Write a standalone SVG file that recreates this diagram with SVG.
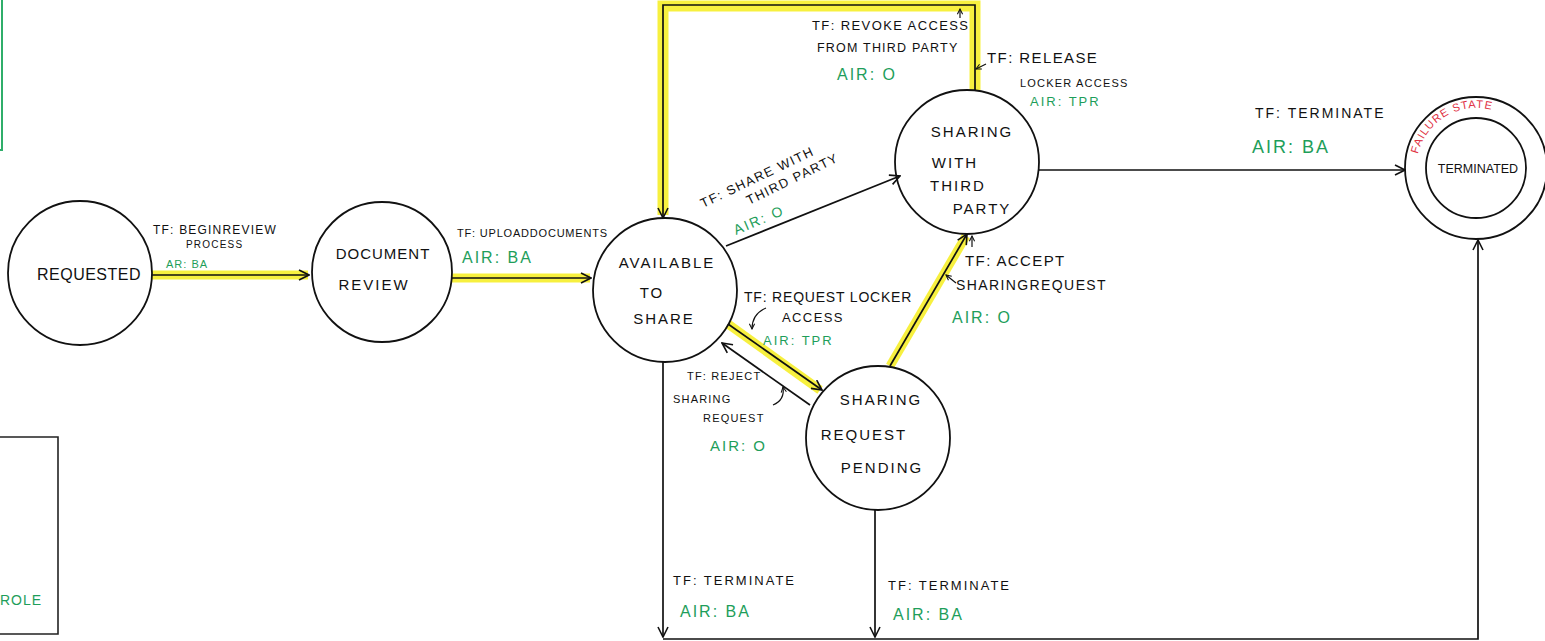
<svg xmlns="http://www.w3.org/2000/svg" width="1545" height="641" viewBox="0 0 1545 641">
  <style>
    .bg { fill: #ffffff; }
    .state { fill: none; stroke: #111; stroke-width: 1.8; }
    .edge { fill: none; stroke: #111; stroke-width: 1.7; }
    .hl { fill: none; stroke: #f6ee2a; stroke-width: 9; stroke-linecap: butt; stroke-linejoin: miter; opacity: 0.9; }
    .hl-thick { fill: none; stroke: #f6ee2a; stroke-width: 11; stroke-linejoin: miter; opacity: 0.9; }
    .pointer { fill: none; stroke: #111; stroke-width: 1.2; }
    text { font-family: "Liberation Sans", Arial, sans-serif; fill: #111; }
    .name { font-size: 15px; text-anchor: middle; letter-spacing: 2px; }
    .tf { font-size: 13px; letter-spacing: 1.4px; }
    .tf-s { font-size: 11px; letter-spacing: 1.2px; }
    .air { fill: #1e9e5a; font-size: 16px; letter-spacing: 2px; }
    .air-s { fill: #1e9e5a; font-size: 11px; letter-spacing: 1px; }
    .fail { fill: #e0303f; font-size: 11px; letter-spacing: 1px; }
  </style>
  <defs>
    <marker id="arrow" viewBox="0 0 12 12" refX="11" refY="6" markerWidth="12" markerHeight="12" markerUnits="userSpaceOnUse" orient="auto">
      <path d="M1,1 L11,6 L1,11" fill="none" stroke="#111" stroke-width="1.6"/>
    </marker>
    <marker id="tick" viewBox="0 0 8 8" refX="7" refY="4" markerWidth="7" markerHeight="7" markerUnits="userSpaceOnUse" orient="auto">
      <path d="M1,1 L7,4 L1,7" fill="none" stroke="#111" stroke-width="1.2"/>
    </marker>
    <!-- arc through the ring between the two circles of the final state -->
    <path id="failArc" d="M1418,154 A60,60 0 0 1 1492,110"/>
  </defs>

  <rect class="bg" x="0" y="0" width="1545" height="641"/>

  <!-- side panels (clipped at the left edge) -->
  <g id="legend-top">
    <path d="M2,0 L2,150 L-2,150" fill="none" stroke="#2fae6a" stroke-width="2"/>
  </g>
  <g id="legend-bottom">
    <path d="M-2,437 L58,437 L58,634 L-2,634" fill="none" stroke="#222" stroke-width="1.6"/>
    <text class="air" x="0" y="605" style="font-size:14px;letter-spacing:1px">ROLE</text>
  </g>

  <!-- highlighted path -->
  <g id="highlights">
    <line class="hl" x1="152" y1="275" x2="308" y2="275"/>
    <line class="hl" x1="452" y1="278" x2="590" y2="278"/>
    <path class="hl-thick" d="M975,90 L975,6 L663,6 L663,215"/>
    <line class="hl" x1="728" y1="324" x2="820" y2="390"/>
    <line class="hl" x1="890" y1="366" x2="966" y2="236"/>
  </g>

  <!-- transitions -->
  <g id="connectors">
    <line class="edge" x1="152" y1="275" x2="309" y2="275" marker-end="url(#arrow)"/>
    <line class="edge" x1="452" y1="278" x2="591" y2="278" marker-end="url(#arrow)"/>
    <path class="edge" d="M975,90 L975,5 L663,5 L663,218" marker-end="url(#arrow)"/>
    <line class="edge" x1="726" y1="246" x2="900" y2="176" marker-end="url(#arrow)"/>
    <line class="edge" x1="728" y1="324" x2="822" y2="390" marker-end="url(#arrow)"/>
    <line class="edge" x1="810" y1="405" x2="722" y2="343" marker-end="url(#arrow)"/>
    <line class="edge" x1="890" y1="366" x2="967" y2="234" marker-end="url(#arrow)"/>
    <line class="edge" x1="1039" y1="170" x2="1405" y2="170" marker-end="url(#arrow)"/>
    <line class="edge" x1="663" y1="362" x2="663" y2="637" marker-end="url(#arrow)"/>
    <line class="edge" x1="875" y1="510" x2="875" y2="637" marker-end="url(#arrow)"/>
    <path class="edge" d="M663,639 L1478,639 L1478,240" marker-end="url(#arrow)"/>

    <!-- label pointers -->
    <path class="pointer" d="M960,18 L960,9" marker-end="url(#tick)"/>
    <path class="pointer" d="M986,64 L976,69" marker-end="url(#tick)"/>
    <path class="pointer" d="M766,308 Q752,314 752,329" marker-end="url(#tick)"/>
    <path class="pointer" d="M773,405 Q785,400 783,387" marker-end="url(#tick)"/>
    <path class="pointer" d="M956,283 L946,275" marker-end="url(#tick)"/>
    <path class="pointer" d="M972,247 L972,236" marker-end="url(#tick)"/>
  </g>

  <!-- states -->
  <g id="requested">
    <circle class="state" cx="80" cy="273" r="72"/>
    <text class="name" x="89" y="280" style="font-size:16px;letter-spacing:0.5px">REQUESTED</text>
  </g>
  <g id="document-review">
    <circle class="state" cx="382" cy="272" r="70"/>
    <text class="name" x="383" y="259" style="font-size:15px;letter-spacing:1px">DOCUMENT</text>
    <text class="name" x="374" y="290" style="font-size:15px">REVIEW</text>
  </g>
  <g id="available-to-share">
    <circle class="state" cx="665" cy="290" r="72"/>
    <text class="name" x="667" y="268">AVAILABLE</text>
    <text class="name" x="652" y="298">TO</text>
    <text class="name" x="664" y="324">SHARE</text>
  </g>
  <g id="sharing-with-third-party">
    <circle class="state" cx="967" cy="162" r="72"/>
    <text class="name" x="972" y="137">SHARING</text>
    <text class="name" x="955" y="168">WITH</text>
    <text class="name" x="958" y="191">THIRD</text>
    <text class="name" x="982" y="214">PARTY</text>
  </g>
  <g id="sharing-request-pending">
    <circle class="state" cx="878" cy="438" r="72"/>
    <text class="name" x="881" y="405">SHARING</text>
    <text class="name" x="864" y="440">REQUEST</text>
    <text class="name" x="882" y="473">PENDING</text>
  </g>
  <g id="terminated">
    <circle class="state" cx="1476" cy="168" r="71"/>
    <circle class="state" cx="1476" cy="168" r="50"/>
    <text class="name" x="1478" y="173" style="font-size:12.5px;letter-spacing:0">TERMINATED</text>
    <text class="fail"><textPath href="#failArc">FAILURE STATE</textPath></text>
  </g>

  <!-- transition labels -->
  <g id="labels">
    <text class="tf-s" x="153" y="234" style="font-size:12px">TF: BEGINREVIEW</text>
    <text class="tf-s" x="186" y="248" style="font-size:10px">PROCESS</text>
    <text class="air-s" x="166" y="268">AR: BA</text>

    <text class="tf-s" x="457" y="237" style="font-size:11px;letter-spacing:0.8px">TF: UPLOADDOCUMENTS</text>
    <text class="air" x="462" y="263">AIR: BA</text>

    <text class="tf" x="812" y="30">TF: REVOKE ACCESS</text>
    <text class="tf-s" x="817" y="52" style="font-size:12.5px">FROM THIRD PARTY</text>
    <text class="air" x="837" y="80">AIR: O</text>

    <text class="tf" x="987" y="63" style="font-size:15px">TF: RELEASE</text>
    <text class="tf-s" x="1020" y="87">LOCKER ACCESS</text>
    <text class="air" x="1030" y="106" style="font-size:13px">AIR: TPR</text>

    <text class="tf" transform="translate(703,208) rotate(-25.5)">TF: SHARE WITH</text>
    <text class="tf" transform="translate(749,205) rotate(-26)">THIRD PARTY</text>
    <text class="air" transform="translate(736,235) rotate(-23)" style="font-size:14px">AIR: O</text>

    <text class="tf" x="744" y="302" style="font-size:14px;letter-spacing:0.8px">TF: REQUEST LOCKER</text>
    <text class="tf" x="782" y="322">ACCESS</text>
    <text class="air" x="763" y="345" style="font-size:13px">AIR: TPR</text>

    <text class="tf-s" x="687" y="380">TF: REJECT</text>
    <text class="tf-s" x="673" y="403">SHARING</text>
    <text class="tf-s" x="703" y="422">REQUEST</text>
    <text class="air" x="710" y="451" style="font-size:15px">AIR: O</text>

    <text class="tf" x="965" y="266" style="font-size:15px">TF: ACCEPT</text>
    <text class="tf" x="956" y="290" style="font-size:14px">SHARINGREQUEST</text>
    <text class="air" x="952" y="323">AIR: O</text>

    <text class="tf" x="1255" y="118" style="font-size:14px;letter-spacing:2px">TF: TERMINATE</text>
    <text class="air" x="1252" y="153" style="font-size:18px">AIR: BA</text>

    <text class="tf" x="673" y="585" style="letter-spacing:2px">TF: TERMINATE</text>
    <text class="air" x="680" y="617">AIR: BA</text>
    <text class="tf" x="888" y="590" style="letter-spacing:2px">TF: TERMINATE</text>
    <text class="air" x="893" y="620">AIR: BA</text>
  </g>
</svg>
